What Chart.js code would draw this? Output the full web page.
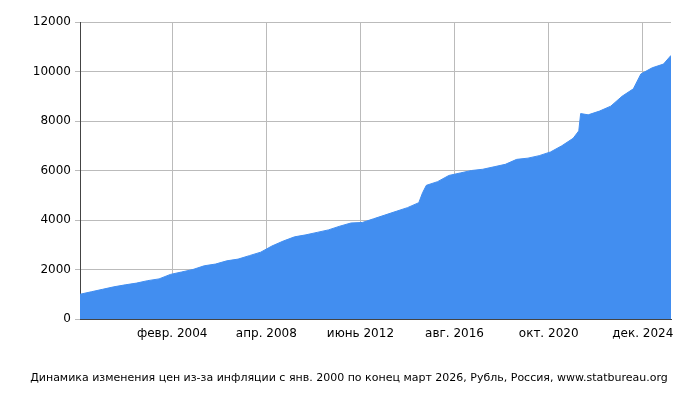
<!DOCTYPE html>
<html><head><meta charset="utf-8">
<script src="https://cdn.jsdelivr.net/npm/chart.js@4/dist/chart.umd.min.js"></script>
<style>html,body{margin:0;padding:0;background:#fff}#w{position:relative;width:700px;height:400px}</style>
</head><body><div id="w"><canvas id="c" width="700" height="400"></canvas></div>
<script>
const months=[0,6,12,18,24,30,36,42,48,54,60,66,72,78,84,90,96,102,108,114,120,126,132,138,144,150,156,162,168,174,180,182,184,190,196,202,208,214,220,226,232,238,244,250,256,262,265,266,270,276,282,288,294,298,304,310,314];
const values=[1000,1100,1200,1300,1380,1450,1550,1620,1800,1900,2000,2150,2220,2350,2420,2560,2700,2950,3150,3320,3400,3500,3600,3750,3880,3900,4050,4200,4350,4500,4700,5100,5400,5550,5800,5900,6000,6050,6150,6250,6450,6500,6600,6750,7000,7300,7600,8300,8250,8400,8600,9000,9300,9900,10150,10300,10650];
const tickMonths=[49,99,149,199,249,299];
const tickLabels=["февр. 2004","апр. 2008","июнь 2012","авг. 2016","окт. 2020","дек. 2024"];
const caption="Динамика изменения цен из-за инфляции с янв. 2000 по конец март 2026, Рубль, Россия, www.statbureau.org";
const font={family:"DejaVu Sans",size:12};
new Chart(document.getElementById('c'),{
 type:'line',
 data:{datasets:[{data:months.map((m,i)=>({x:m,y:values[i]})),fill:'origin',backgroundColor:'#428ef0',borderColor:'#428ef0',borderWidth:1,pointRadius:0,tension:0}]},
 options:{responsive:false,animation:false,devicePixelRatio:1,
  layout:{padding:{left:0,right:29,top:22,bottom:0}},
  plugins:{legend:{display:false},tooltip:{enabled:false}},
  scales:{
   x:{type:'linear',min:0,max:314,
      afterBuildTicks:s=>{s.ticks=tickMonths.map(v=>({value:v}));},
      afterFit:s=>{s.height=81;},
      ticks:{color:'#000',font,maxRotation:0,autoSkip:false,padding:8,callback:v=>tickLabels[tickMonths.indexOf(v)]},
      grid:{color:'#bbb',drawTicks:false},border:{color:'#444'}},
   y:{min:0,max:12000,afterFit:s=>{s.width=80;},
      ticks:{stepSize:2000,color:'#000',font,padding:4,callback:v=>String(v)},
      grid:{color:'#bbb',tickLength:5},border:{color:'#444'}}
  }},
 plugins:[{id:'cap',afterDraw(c){const x=c.ctx;x.save();x.font='11px "DejaVu Sans"';x.fillStyle='#000';x.textAlign='center';x.fillText(caption,349,381);x.restore();}}]
});
</script></body></html>
